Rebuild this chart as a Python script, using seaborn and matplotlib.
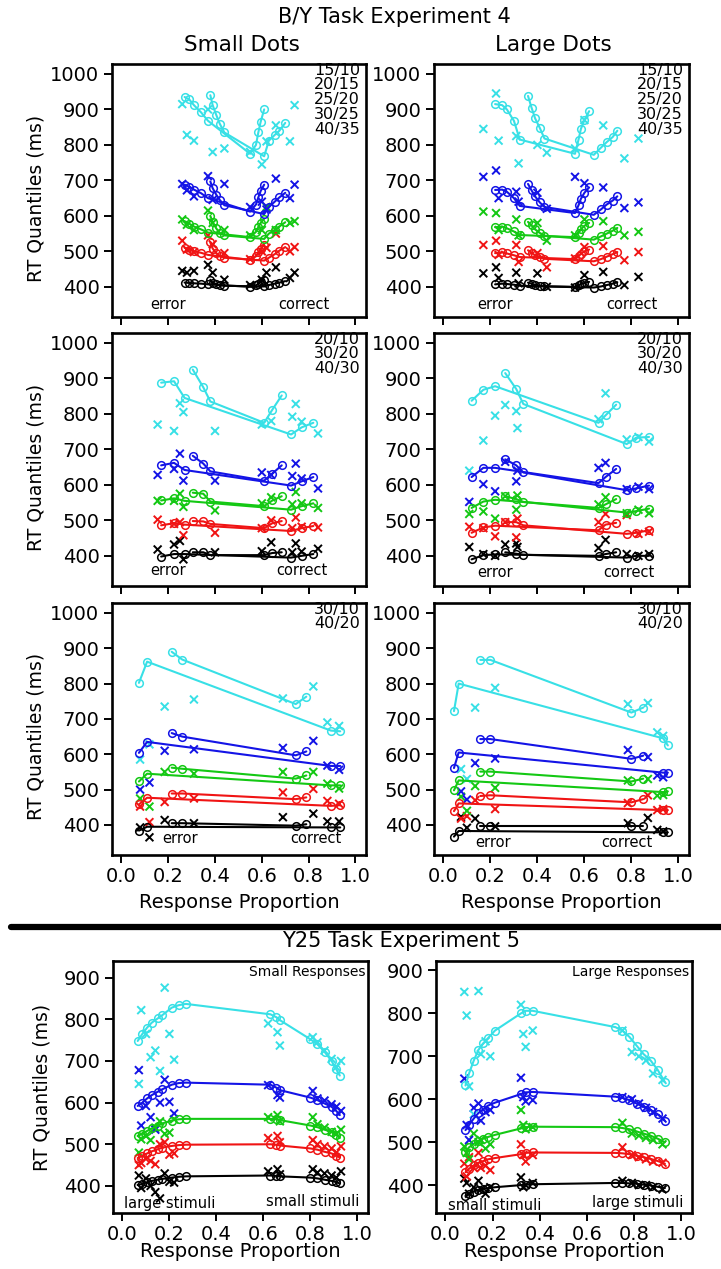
import pandas as pd
import seaborn as sns
import matplotlib
matplotlib.use("Agg")
import matplotlib.pyplot as plt
from matplotlib.lines import Line2D

W, H = 721, 1269

quantiles = ["0.1", "0.3", "0.5", "0.7", "0.9"]
colors = ["#000000", "#f01414", "#14c814", "#1414e6", "#38e0e6"]

# ---- B/Y task, Small Dots, 5 conditions --------------------------------
r1l_px1 = [0.27, 0.29, 0.31, 0.34, 0.37, 0.55, 0.575, 0.585, 0.595, 0.61]
r1l_rt1 = [[412, 411, 410, 409, 407, 400, 404, 409, 414, 420],
           [510, 505, 500, 496, 490, 476, 486, 497, 507, 518],
           [585, 578, 570, 562, 553, 540, 555, 568, 580, 592],
           [688, 682, 674, 664, 650, 612, 632, 652, 670, 688],
           [935, 928, 912, 892, 868, 775, 800, 835, 865, 900]]
r1l_px2 = [0.38, 0.39, 0.405, 0.42, 0.44, 0.61, 0.63, 0.655, 0.675, 0.70]
r1l_rt2 = [[420, 412, 408, 405, 403, 401, 405, 409, 412, 416],
           [525, 508, 495, 487, 482, 474, 482, 492, 502, 512],
           [600, 582, 565, 552, 545, 535, 550, 560, 570, 582],
           [697, 678, 660, 645, 630, 605, 625, 640, 652, 665],
           [940, 912, 885, 860, 835, 768, 812, 828, 840, 862]]
r1l_obs_px = [0.26, 0.28, 0.31, 0.37, 0.39, 0.44, 0.55, 0.60, 0.62, 0.66, 0.72, 0.74]
r1l_obs = [[445, 440, 445, 462, 440, 420, 405, 420, 440, 455, 425, 440],
           [530, 505, 498, 545, 520, 495, 478, 500, 510, 550, 500, 512],
           [590, 575, 560, 615, 580, 560, 545, 560, 625, 560, 580, 585],
           [690, 672, 655, 712, 645, 690, 625, 640, 618, 705, 650, 688],
           [915, 828, 812, 900, 780, 790, 780, 745, 810, 855, 810, 912]]

# ---- B/Y task, Large Dots, 5 conditions --------------------------------
r1r_px1 = [0.22, 0.25, 0.27, 0.30, 0.325, 0.56, 0.575, 0.585, 0.60, 0.62]
r1r_rt1 = [[407, 409, 408, 406, 403, 400, 404, 408, 411, 414],
           [495, 497, 494, 489, 484, 478, 486, 493, 500, 505],
           [568, 570, 565, 556, 546, 540, 552, 562, 572, 580],
           [673, 674, 668, 650, 628, 608, 630, 648, 665, 680],
           [915, 912, 900, 868, 815, 775, 815, 845, 870, 895]]
r1r_px2 = [0.36, 0.375, 0.39, 0.41, 0.43, 0.64, 0.67, 0.695, 0.72, 0.74]
r1r_rt2 = [[412, 409, 406, 403, 401, 398, 401, 405, 409, 413],
           [503, 496, 489, 483, 479, 472, 478, 485, 492, 498],
           [583, 573, 562, 552, 544, 533, 542, 550, 558, 566],
           [690, 672, 655, 638, 625, 603, 618, 632, 643, 655],
           [938, 905, 875, 848, 818, 772, 792, 808, 822, 840]]
r1r_obs_px = [0.17, 0.224, 0.235, 0.31, 0.32, 0.40, 0.44, 0.56, 0.60, 0.68, 0.77, 0.83]
r1r_obs = [[438, 455, 425, 440, 410, 438, 400, 398, 433, 442, 405, 428],
           [518, 530, 490, 518, 470, 495, 455, 480, 512, 515, 475, 498],
           [612, 608, 560, 590, 545, 580, 530, 545, 590, 585, 545, 555],
           [710, 728, 650, 668, 640, 665, 620, 710, 692, 680, 622, 638],
           [845, 945, 812, 825, 748, 800, 778, 790, 870, 855, 762, 818]]

# ---- B/Y task, Small Dots, 3 conditions --------------------------------
r2l_px1 = [0.17, 0.225, 0.27, 0.725, 0.77, 0.82]
r2l_rt1 = [[398, 405, 405, 395, 400, 405],
           [486, 492, 488, 470, 478, 484],
           [556, 562, 555, 530, 540, 548],
           [655, 662, 642, 598, 610, 622],
           [888, 892, 845, 742, 762, 775]]
r2l_px2 = [0.305, 0.35, 0.38, 0.61, 0.645, 0.685]
r2l_rt2 = [[410, 410, 402, 402, 408, 410],
           [498, 497, 490, 478, 492, 498],
           [578, 575, 553, 540, 556, 568],
           [682, 660, 638, 612, 632, 655],
           [925, 875, 835, 775, 812, 852]]
r2l_obs_px = [0.155, 0.225, 0.25, 0.265, 0.40, 0.60, 0.64, 0.73, 0.745, 0.77, 0.84]
r2l_obs = [[418, 432, 442, 390, 410, 413, 438, 410, 435, 412, 420],
           [502, 490, 495, 458, 465, 478, 500, 478, 508, 482, 480],
           [555, 555, 575, 538, 528, 548, 565, 545, 580, 548, 535],
           [628, 645, 688, 612, 612, 635, 628, 625, 660, 618, 590],
           [770, 752, 830, 805, 752, 770, 780, 792, 828, 778, 745]]

# ---- B/Y task, Large Dots, 3 conditions --------------------------------
r2r_px1 = [0.12, 0.17, 0.22, 0.66, 0.69, 0.735]
r2r_rt1 = [[390, 402, 404, 400, 405, 410],
           [465, 480, 485, 472, 488, 493],
           [535, 553, 558, 535, 545, 560],
           [622, 648, 648, 605, 622, 645],
           [837, 868, 878, 775, 796, 826]]
r2r_px2 = [0.263, 0.31, 0.34, 0.78, 0.82, 0.875]
r2r_rt2 = [[410, 406, 403, 395, 400, 400],
           [495, 495, 486, 462, 465, 472],
           [568, 560, 552, 522, 526, 533],
           [672, 655, 635, 585, 590, 598],
           [915, 870, 828, 715, 733, 735]]
r2r_obs_px = [0.11, 0.17, 0.22, 0.263, 0.31, 0.315, 0.66, 0.69, 0.78, 0.83, 0.875]
r2r_obs = [[425, 405, 400, 432, 435, 425, 422, 445, 405, 400, 405],
           [482, 478, 455, 495, 452, 505, 495, 518, 515, 462, 468],
           [518, 525, 505, 568, 530, 570, 545, 565, 520, 530, 520],
           [552, 602, 582, 665, 610, 640, 648, 662, 588, 595, 588],
           [640, 725, 795, 825, 808, 760, 785, 858, 728, 735, 722]]

# ---- B/Y task, Small Dots, 2 conditions --------------------------------
r3l_px1 = [0.075, 0.11, 0.895, 0.935]
r3l_rt1 = [[384, 395, 393, 393],
           [458, 477, 454, 456],
           [523, 545, 512, 512],
           [604, 635, 567, 567],
           [802, 862, 667, 665]]
r3l_px2 = [0.215, 0.26, 0.745, 0.79]
r3l_rt2 = [[405, 405, 398, 402],
           [489, 489, 473, 478],
           [562, 559, 531, 540],
           [660, 650, 597, 608],
           [890, 868, 742, 763]]
r3l_obs_px = [0.08, 0.12, 0.185, 0.31, 0.69, 0.82, 0.88, 0.93]
r3l_obs = [[393, 365, 414, 405, 422, 432, 410, 410],
           [452, 408, 465, 475, 492, 502, 468, 460],
           [475, 452, 550, 545, 550, 550, 517, 503],
           [500, 520, 610, 614, 618, 638, 568, 556],
           [585, 628, 735, 755, 758, 792, 690, 680]]

# ---- B/Y task, Large Dots, 2 conditions --------------------------------
r3r_px1 = [0.045, 0.065, 0.935, 0.955]
r3r_rt1 = [[367, 383, 379, 379],
           [439, 461, 442, 442],
           [498, 526, 493, 495],
           [561, 605, 548, 548],
           [722, 800, 645, 625]]
r3r_px2 = [0.157, 0.20, 0.80, 0.85]
r3r_rt2 = [[398, 398, 398, 398],
           [482, 484, 464, 473],
           [551, 551, 523, 531],
           [643, 643, 587, 596],
           [867, 867, 718, 732]]
r3r_obs_px = [0.075, 0.10, 0.135, 0.22, 0.785, 0.87, 0.91, 0.935]
r3r_obs = [[423, 392, 418, 396, 405, 420, 386, 382],
           [418, 425, 470, 445, 462, 484, 442, 445],
           [480, 440, 510, 505, 526, 530, 483, 485],
           [495, 472, 575, 588, 612, 592, 540, 535],
           [558, 530, 732, 788, 742, 745, 662, 652]]

# ---- Y25 task, Small Responses ------------------------------------------
r4l_px = [0.065, 0.085, 0.105, 0.125, 0.15, 0.17, 0.21, 0.24, 0.27,
          0.63, 0.655, 0.67, 0.80, 0.83, 0.86, 0.89, 0.91, 0.925]
r4l_rt = [[402, 405, 409, 412, 415, 417, 420, 422, 423, 425, 424, 423, 420, 418, 415, 412, 409, 406],
          [467, 472, 478, 483, 488, 492, 496, 498, 499, 500, 499, 497, 490, 487, 482, 478, 473, 468],
          [520, 525, 532, 538, 544, 550, 557, 560, 561, 561, 560, 558, 545, 541, 535, 530, 523, 515],
          [592, 600, 610, 618, 626, 632, 643, 647, 648, 643, 636, 630, 612, 606, 598, 590, 580, 570],
          [748, 765, 780, 792, 802, 810, 828, 834, 837, 812, 805, 798, 752, 740, 722, 700, 680, 665]]
r4l_obs_px = [0.07, 0.08, 0.10, 0.12, 0.14, 0.16, 0.18, 0.20, 0.22,
              0.62, 0.66, 0.67, 0.81, 0.83, 0.86, 0.89, 0.91, 0.93]
r4l_obs = [[425, 395, 418, 400, 385, 370, 430, 410, 408, 435, 440, 428, 440, 432, 430, 425, 420, 435],
           [450, 455, 465, 460, 452, 500, 505, 475, 478, 515, 520, 505, 510, 500, 495, 490, 480, 495],
           [480, 512, 520, 510, 540, 555, 525, 528, 560, 565, 570, 555, 565, 548, 540, 530, 525, 535],
           [678, 545, 592, 565, 535, 600, 655, 602, 574, 642, 618, 612, 628, 610, 605, 596, 590, 580],
           [645, 822, 765, 709, 725, 676, 876, 765, 703, 790, 769, 737, 757, 745, 725, 705, 685, 700]]

# ---- Y25 task, Large Responses ------------------------------------------
r4r_px = [0.085, 0.10, 0.12, 0.14, 0.16, 0.18, 0.21, 0.32, 0.34,
          0.37, 0.72, 0.75, 0.78, 0.81, 0.84, 0.87, 0.90, 0.93]
r4r_rt = [[375, 380, 385, 389, 391, 393, 395, 400, 401, 402, 405, 405, 404, 403, 401, 399, 396, 393],
          [430, 438, 446, 452, 456, 460, 463, 472, 475, 476, 475, 474, 472, 468, 465, 461, 456, 450],
          [478, 488, 496, 503, 508, 512, 517, 532, 535, 536, 535, 533, 530, 525, 520, 515, 508, 500],
          [528, 540, 555, 568, 576, 585, 592, 612, 616, 617, 606, 603, 598, 590, 582, 575, 565, 550],
          [632, 660, 690, 715, 730, 742, 760, 800, 806, 806, 768, 760, 745, 725, 705, 690, 668, 640]]
r4r_obs_px = [0.08, 0.09, 0.10, 0.12, 0.14, 0.15, 0.17, 0.19, 0.32,
              0.33, 0.34, 0.37, 0.75, 0.79, 0.82, 0.85, 0.88, 0.92]
r4r_obs = [[415, 405, 380, 395, 410, 390, 380, 395, 418, 395, 400, 405, 410, 405, 400, 400, 395, 390],
           [450, 420, 465, 440, 475, 440, 445, 435, 495, 470, 455, 470, 488, 470, 465, 460, 455, 452],
           [490, 475, 460, 520, 500, 505, 485, 495, 575, 540, 530, 535, 545, 520, 515, 510, 505, 495],
           [648, 540, 505, 580, 590, 550, 570, 575, 650, 605, 595, 598, 605, 600, 590, 580, 570, 555],
           [850, 795, 630, 565, 852, 705, 735, 700, 820, 752, 722, 760, 760, 710, 700, 690, 660, 645]]

xticks = [0.0, 0.2, 0.4, 0.6, 0.8, 1.0]


def long_frame(chains):
    rows = []
    for c, (px, rts) in enumerate(chains):
        for qi, ys in enumerate(rts):
            for x, y in zip(px, ys):
                rows.append({"chain": c, "q": quantiles[qi], "p": x, "rt": y})
    return pd.DataFrame(rows)


def rect(x0, y0, x1, y1):
    return [x0 / W, 1 - y1 / H, (x1 - x0) / W, (y1 - y0) / H]


def draw_panel(ax, chains, obs_px, obs, ylim, yticks):
    pal = dict(zip(quantiles, colors))
    model = long_frame(chains)
    data = long_frame([(obs_px, obs)])
    sns.lineplot(data=model, x="p", y="rt", hue="q", hue_order=quantiles, palette=pal,
                 units="chain", estimator=None, sort=False, marker="o", markersize=5.5,
                 linewidth=1.5, legend=False, ax=ax)
    for l in ax.lines:
        l.set_markerfacecolor("none")
        l.set_markeredgecolor(l.get_color())
        l.set_markeredgewidth(1.1)
    sns.scatterplot(data=data, x="p", y="rt", hue="q", hue_order=quantiles, palette=pal,
                    marker="x", s=32, linewidth=1.4, legend=False, ax=ax)
    ax.set_xlim(-0.04, 1.045)
    ax.set_ylim(*ylim)
    ax.set_xticks(xticks)
    ax.set_yticks(yticks)
    ax.set_xlabel("")
    ax.set_ylabel("")
    for s in ax.spines.values():
        s.set_visible(True)
        s.set_linewidth(1.9)
        s.set_color("black")
    ax.tick_params(direction="out", length=6, width=1.4, labelsize=14, pad=3, colors="black")


def main():
    sns.set_style("ticks", {"axes.edgecolor": "black", "text.color": "black",
                            "axes.labelcolor": "black", "xtick.color": "black",
                            "ytick.color": "black"})
    plt.rcParams["font.family"] = ["DejaVu Sans"]

    fig = plt.figure(figsize=(W / 100, H / 100), dpi=100)

    rows_y = [(64, 317), (333, 586), (603, 855)]
    panels = [
        ([(r1l_px1, r1l_rt1), (r1l_px2, r1l_rt2)], r1l_obs_px, r1l_obs,
         [(r1r_px1, r1r_rt1), (r1r_px2, r1r_rt2)], r1r_obs_px, r1r_obs,
         "15/10\n20/15\n25/20\n30/25\n40/35"),
        ([(r2l_px1, r2l_rt1), (r2l_px2, r2l_rt2)], r2l_obs_px, r2l_obs,
         [(r2r_px1, r2r_rt1), (r2r_px2, r2r_rt2)], r2r_obs_px, r2r_obs,
         "20/10\n30/20\n40/30"),
        ([(r3l_px1, r3l_rt1), (r3l_px2, r3l_rt2)], r3l_obs_px, r3l_obs,
         [(r3r_px1, r3r_rt1), (r3r_px2, r3r_rt2)], r3r_obs_px, r3r_obs,
         "30/10\n40/20"),
    ]
    err_pos = [((0.20, 349), (0.78, 349), (0.22, 349), (0.80, 349)),
               ((0.20, 358), (0.77, 358), (0.22, 352), (0.79, 352)),
               ((0.25, 361), (0.83, 361), (0.21, 349), (0.78, 349))]
    yt = list(range(400, 1001, 100))

    for i, (y0, y1) in enumerate(rows_y):
        lch, lpx, lobs, rch, rpx, robs, cond = panels[i]
        axl = fig.add_axes(rect(112, y0, 366, y1))
        axr = fig.add_axes(rect(434, y0, 689, y1))
        draw_panel(axl, lch, lpx, lobs, (315, 1028), yt)
        draw_panel(axr, rch, rpx, robs, (315, 1028), yt)
        axl.set_ylabel("RT Quantiles (ms)", fontsize=13.5)
        axl.yaxis.set_label_coords(-0.262, 0.47)
        e1, c1, e2, c2 = err_pos[i]
        for ax, e, c in ((axl, e1, c1), (axr, e2, c2)):
            ax.text(0.976, 1.005, cond, transform=ax.transAxes, ha="right", va="top",
                    fontsize=11.5, linespacing=0.98)
            ax.text(e[0], e[1], "error", ha="center", va="center", fontsize=10.5)
            ax.text(c[0], c[1], "correct", ha="center", va="center", fontsize=10.5)
            if i < 2:
                ax.set_xticklabels([])
            else:
                ax.set_xlabel("Response Proportion", fontsize=14)
                ax.xaxis.set_label_coords(0.5, -0.15)

    # Y25 task
    ax4l = fig.add_axes(rect(113, 961, 368, 1213))
    ax4r = fig.add_axes(rect(436, 961, 692, 1213))
    yt4 = list(range(400, 901, 100))
    draw_panel(ax4l, [(r4l_px, r4l_rt)], r4l_obs_px, r4l_obs, (335, 940), yt4)
    draw_panel(ax4r, [(r4r_px, r4r_rt)], r4r_obs_px, r4r_obs, (335, 922), yt4)
    ax4l.set_ylabel("RT Quantiles (ms)", fontsize=13.5)
    ax4l.yaxis.set_label_coords(-0.241, 0.5)
    for ax, title, a, b in ((ax4l, "Small Responses", (0.20, 358, "large stimuli"), (0.81, 362, "small stimuli")),
                            (ax4r, "Large Responses", (0.21, 353, "small stimuli"), (0.815, 359, "large stimuli"))):
        ax.text(0.99, 0.955, title, transform=ax.transAxes, ha="right", va="center", fontsize=10)
        ax.text(a[0], a[1], a[2], ha="center", va="center", fontsize=10.5)
        ax.text(b[0], b[1], b[2], ha="center", va="center", fontsize=10.5)
        ax.set_xlabel("Response Proportion", fontsize=14)
        ax.xaxis.set_label_coords(0.5, -0.115)

    fig.text(394 / W, 1 - 17 / H, "B/Y Task Experiment 4", ha="center", va="center", fontsize=15)
    fig.text(242 / W, 1 - 45 / H, "Small Dots", ha="center", va="center", fontsize=15.5)
    fig.text(553 / W, 1 - 45 / H, "Large Dots", ha="center", va="center", fontsize=15.5)
    fig.text(401 / W, 1 - 941 / H, "Y25 Task Experiment 5", ha="center", va="center", fontsize=15)
    fig.add_artist(Line2D([11 / W, 1.0], [1 - 927 / H, 1 - 927 / H], lw=4.5, color="black"))

    fig.savefig("out.png", dpi=100)


if __name__ == "__main__":
    main()
